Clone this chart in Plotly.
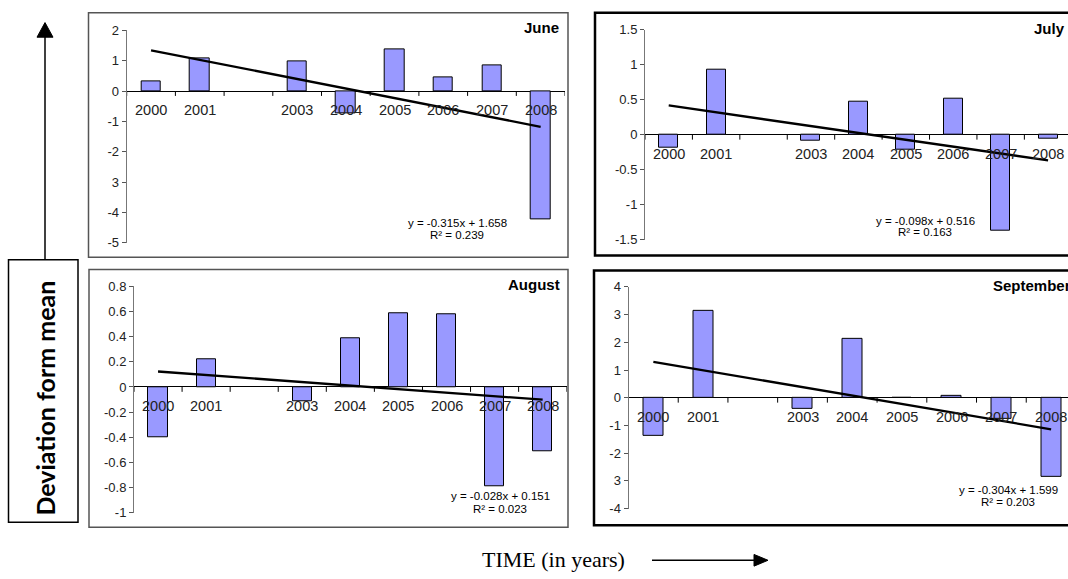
import plotly.graph_objects as go

W, H = 1068, 579

# ---------------- data ----------------
year_labels = ["2000", "2001", "", "2003", "2004", "2005", "2006", "2007", "2008"]
x_index = [1, 2, 3, 4, 5, 6, 7, 8, 9]

june = [0.33, 1.07, None, 0.97, -0.75, 1.39, 0.44, 0.84, -4.22]
july = [-0.185, 0.93, None, -0.09, 0.47, -0.22, 0.51, -1.37, -0.06]
august = [-0.40, 0.224, None, -0.116, 0.387, 0.588, 0.58, -0.79, -0.513]
september = [-1.39, 3.15, None, -0.41, 2.13, -0.02, 0.07, -0.77, -2.86]

months = ["June", "July", "August", "September"]
slopes = [-0.315, -0.098, -0.028, -0.304]
intercepts = [1.658, 0.516, 0.151, 1.599]
r_squared = ["0.239", "0.163", "0.023", "0.203"]
eq_text = ["y = -0.315x + 1.658", "y = -0.098x + 0.516",
           "y = -0.028x + 0.151", "y = -0.304x + 1.599"]

june_ticks = [2, 1, 0, -1, -2, -3, -4, -5]
june_ticktext = ["2", "1", "0", "-1", "-2", "3", "-4", "-5"]
july_ticks = [1.5, 1, 0.5, 0, -0.5, -1, -1.5]
july_ticktext = ["1.5", "1", "0.5", "0", "-0.5", "-1", "-1.5"]
aug_ticks = [0.8, 0.6, 0.4, 0.2, 0, -0.2, -0.4, -0.6, -0.8, -1]
aug_ticktext = ["0.8", "0.6", "0.4", "0.2", "0", "-0.2", "-0.4", "-0.6", "-0.8", "-1"]
sep_ticks = [4, 3, 2, 1, 0, -1, -2, -3, -4]
sep_ticktext = ["4", "3", "2", "1", "0", "-1", "-2", "3", "-4"]

series = [june, july, august, september]
ticks = [(june_ticks, june_ticktext), (july_ticks, july_ticktext),
         (aug_ticks, aug_ticktext), (sep_ticks, sep_ticktext)]
yranges = [[-5, 2], [-1.5, 1.5], [-1, 0.8], [-4, 4]]

# ---------------- layout geometry (pixels) ----------------
def px(x):
    return x / W

def py(y):
    return 1 - y / H

# plot-area boxes: left, right, top, bottom ; x range end
areas = [
    (126.7, 565.0, 24.0, 242.0, 9.5),
    (645.0, 1068.0, 23.3, 239.0, 9.42),
    (134.0, 566.7, 286.7, 519.3, 9.5),
    (628.5, 1068.0, 287.3, 515.0, 9.34),
]
frames = [
    (88.5, 6, 568, 257, "#555555", 1.5),
    (595, 6, 1080, 255, "#000000", 2.5),
    (89, 269.5, 568, 534, "#555555", 1.5),
    (594, 270.5, 1080, 532, "#000000", 2.5),
]
title_pos = [(561, 21), (1067, 22), (562, 285), (1073, 286)]
eq_pos = [(457, 222, 234), (925, 220, 231), (500, 502, 515), (1008, 496, 508)]
TICK_PX = 5

fig = go.Figure()
annotations = []
shapes = []
layout = {}

boundaries = [i + 0.5 for i in range(0, 10)]

for k in range(4):
    xa = "x" if k == 0 else f"x{k+1}"
    ya = "y" if k == 0 else f"y{k+1}"
    vals = series[k]
    l, r, t, b, xend = areas[k]
    fig.add_trace(go.Bar(
        x=x_index, y=vals, width=0.4, xaxis=xa, yaxis=ya,
        marker=dict(color="#9999FF", line=dict(color="#000000", width=1)),
        showlegend=False, hoverinfo="skip"))
    trend = [slopes[k] * xi + intercepts[k] for xi in x_index]
    fig.add_trace(go.Scatter(
        x=x_index, y=trend, mode="lines", xaxis=xa, yaxis=ya,
        line=dict(color="#000000", width=2.3), showlegend=False, hoverinfo="skip"))
    # category-boundary tick marks hanging below the zero line
    tick_len = TICK_PX * (yranges[k][1] - yranges[k][0]) / (b - t)
    fig.add_trace(go.Scatter(
        x=boundaries, y=[0] * len(boundaries), mode="markers", xaxis=xa, yaxis=ya,
        marker=dict(size=0.1, color="rgba(0,0,0,0)"),
        error_y=dict(type="data", symmetric=False, array=[0] * len(boundaries),
                     arrayminus=[tick_len] * len(boundaries),
                     color="#000000", thickness=1, width=0),
        showlegend=False, hoverinfo="skip"))

    layout["xaxis" if k == 0 else f"xaxis{k+1}"] = dict(
        domain=[px(l), px(r)], range=[0.5, xend], anchor=ya,
        visible=False, fixedrange=True)
    tv, tt = ticks[k]
    layout["yaxis" if k == 0 else f"yaxis{k+1}"] = dict(
        domain=[py(b), py(t)], range=yranges[k], anchor=xa,
        tickmode="array", tickvals=tv, ticktext=tt,
        ticks="outside", ticklen=4, tickcolor="#555555",
        showline=True, linecolor="#777777", linewidth=1,
        showgrid=False, zeroline=True, zerolinecolor="#000000", zerolinewidth=1,
        tickfont=dict(family="Liberation Sans, Arial", size=13, color="#222222"),
        fixedrange=True)

    for xi, lab in zip(x_index, year_labels):
        if lab:
            annotations.append(dict(
                x=xi, y=0, xref=xa, yref=ya, text=lab, showarrow=False,
                xanchor="center", yanchor="middle", yshift=-19,
                font=dict(family="Liberation Sans, Arial", size=14.5, color="#222222")))

    tx, tyy = title_pos[k]
    annotations.append(dict(
        x=px(tx), y=py(tyy), xref="paper", yref="paper", xanchor="right", yanchor="middle",
        text=f"<b>{months[k]}</b>", showarrow=False,
        font=dict(family="Liberation Sans, Arial", size=15, color="#000000")))

    ex, ey1, ey2 = eq_pos[k]
    annotations.append(dict(
        x=px(ex), y=py(ey1), xref="paper", yref="paper", xanchor="center", yanchor="middle",
        text=eq_text[k], showarrow=False,
        font=dict(family="Liberation Sans, Arial", size=11.5, color="#000000")))
    annotations.append(dict(
        x=px(ex), y=py(ey2), xref="paper", yref="paper", xanchor="center", yanchor="middle",
        text=f"R² = {r_squared[k]}", showarrow=False,
        font=dict(family="Liberation Sans, Arial", size=11.5, color="#000000")))

    fx0, fy0, fx1, fy1, fc, fw = frames[k]
    shapes.append(dict(type="rect", xref="paper", yref="paper",
                       x0=px(fx0), y0=py(fy1), x1=px(fx1), y1=py(fy0),
                       line=dict(color=fc, width=fw), fillcolor="rgba(0,0,0,0)", layer="above"))

# left label box and arrow
shapes.append(dict(type="rect", xref="paper", yref="paper",
                   x0=px(8.5), y0=py(529), x1=px(78), y1=py(259.5),
                   line=dict(color="#000000", width=1.5)))
shapes.append(dict(type="line", xref="paper", yref="paper",
                   x0=px(45), y0=py(259.5), x1=px(45), y1=py(30),
                   line=dict(color="#000000", width=1.5)))
shapes.append(dict(type="path", xref="paper", yref="paper",
                   path=f"M {px(37)},{py(31)} L {px(53)},{py(31)} L {px(45)},{py(16)} Z",
                   fillcolor="#000000", line=dict(color="#000000", width=1)))
annotations.append(dict(
    x=px(45), y=py(402), xref="paper", yref="paper", textangle=-90,
    xanchor="center", yanchor="middle",
    text="<b>Deviation form mean</b>", showarrow=False,
    font=dict(family="Lato, Noto Sans", size=25, color="#000000")))

# bottom label and arrow
annotations.append(dict(
    x=px(553), y=py(567), xref="paper", yref="paper",
    xanchor="center", yanchor="middle",
    text="TIME (in years)", showarrow=False,
    font=dict(family="Liberation Serif, Times New Roman", size=22, color="#000000")))
shapes.append(dict(type="line", xref="paper", yref="paper",
                   x0=px(652), y0=py(568), x1=px(756), y1=py(568),
                   line=dict(color="#000000", width=1.5)))
shapes.append(dict(type="path", xref="paper", yref="paper",
                   path=f"M {px(754)},{py(562)} L {px(754)},{py(574)} L {px(768)},{py(568)} Z",
                   fillcolor="#000000", line=dict(color="#000000", width=1)))

fig.update_layout(
    width=W, height=H, autosize=False,
    margin=dict(l=0, r=0, t=0, b=0),
    paper_bgcolor="#FFFFFF", plot_bgcolor="#FFFFFF",
    showlegend=False, bargap=0,
    annotations=annotations, shapes=shapes,
    **layout)

fig.write_html("out.html", config={"displayModeBar": False},
               post_script="document.body.style.margin='0';document.body.style.overflow='hidden';")
